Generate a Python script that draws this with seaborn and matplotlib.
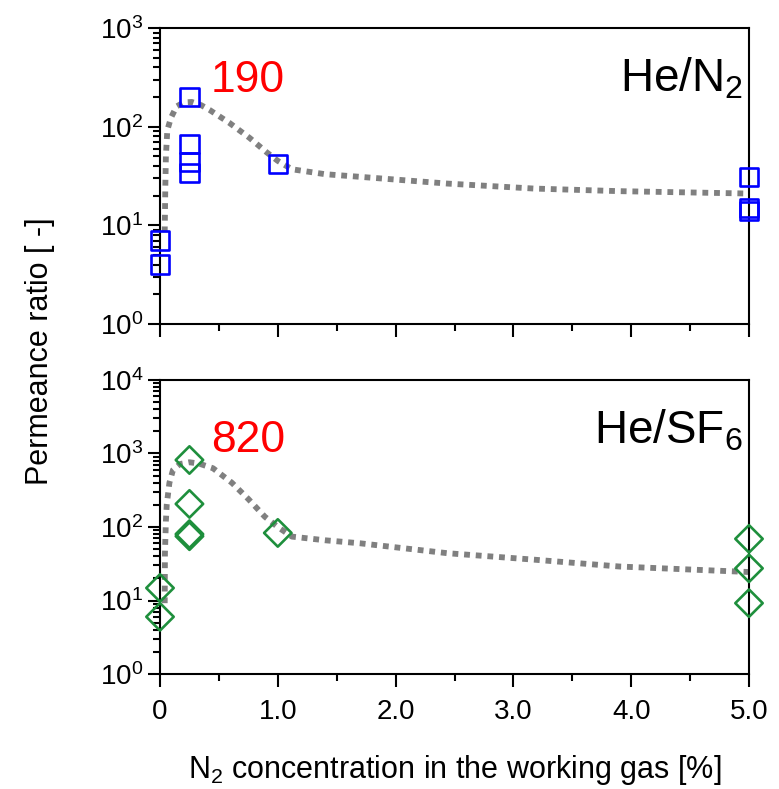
import matplotlib
matplotlib.use("Agg")
import matplotlib.pyplot as plt
import matplotlib.ticker as mticker
import seaborn as sns

# ---- data ----
n2_x = [0.0, 0.0, 0.25, 0.25, 0.25, 0.25, 1.0, 5.0, 5.0, 5.0]
n2_y = [7.0, 4.0, 201, 67, 44, 34, 42, 30.7, 15, 14]

sf6_x = [0.0, 0.0, 0.25, 0.25, 0.25, 0.25, 1.0, 5.0, 5.0, 5.0]
sf6_y = [14.8, 6.0, 816, 206, 80, 75, 83, 69, 27.4, 9.2]

n2_trend_x = [0.04, 0.045, 0.05, 0.062, 0.093, 0.14, 0.2, 0.27, 0.35, 0.42, 0.59,
              0.76, 0.905, 1.0, 1.12, 1.4, 1.7, 2.44, 3.17, 3.9, 5.0]
n2_trend_y = [8.5, 24, 50, 92, 123, 160, 176, 178, 165, 148, 109,
              77, 55, 45, 37, 33, 31, 26.5, 23.6, 22.2, 21]

sf6_trend_x = [0.04, 0.042, 0.05, 0.057, 0.08, 0.11, 0.17, 0.25, 0.33, 0.45, 0.61,
               0.75, 0.89, 1.0, 1.12, 1.4, 1.7, 2.44, 3.17, 3.9, 5.0]
sf6_trend_y = [9.2, 44, 120, 200, 400, 596, 720, 760, 730, 630, 400,
               240, 138, 100, 74, 66, 60, 44, 36, 29, 24.4]

x_ticks = [0, 1, 2, 3, 4, 5]
x_ticklabels = ["0", "1.0", "2.0", "3.0", "4.0", "5.0"]
peak_labels = ["190", "820"]
gas_labels = [r"He/N$_2$", r"He/SF$_6$"]

# ---- style ----
sns.set_theme(style="ticks")
fam = ["Liberation Sans", "DejaVu Sans"]
plt.rcParams["font.family"] = fam
plt.rcParams["mathtext.fontset"] = "custom"
plt.rcParams["mathtext.rm"] = "Liberation Sans"
plt.rcParams["mathtext.it"] = "Liberation Sans:italic"
plt.rcParams["mathtext.bf"] = "Liberation Sans:bold"
plt.rcParams["axes.linewidth"] = 1.5
plt.rcParams["axes.edgecolor"] = "black"
plt.rcParams["text.color"] = "black"
plt.rcParams["axes.labelcolor"] = "black"
plt.rcParams["xtick.color"] = "black"
plt.rcParams["ytick.color"] = "black"

fig = plt.figure(figsize=(7.79, 7.89), dpi=100)
ax1 = fig.add_axes([160/779, 1-324/789, 589/779, 296/789])
ax2 = fig.add_axes([160/779, 1-674/789, 589/779, 294/789])

panels = [
    (ax1, n2_x, n2_y, n2_trend_x, n2_trend_y, "s", "#0000ff", 175, (1, 1000), peak_labels[0], 296, gas_labels[0]),
    (ax2, sf6_x, sf6_y, sf6_trend_x, sf6_trend_y, "D", "#1e8f3c", 195, (1, 10000), peak_labels[1], 1520, gas_labels[1]),
]

for ax, px, py, tx, ty, mk, col, msize, ylim, plab, plab_y, glab in panels:
    sns.lineplot(x=tx, y=ty, ax=ax, color="#808080", lw=4.2, linestyle=(0, (1, 1)),
                 sort=False, estimator=None, zorder=2)
    sns.scatterplot(x=px, y=py, ax=ax, marker=mk, s=msize, color=col, zorder=3, clip_on=False)
    coll = ax.collections[-1]
    coll.set_facecolor("none")
    coll.set_edgecolor(col)
    coll.set_linewidth(1.9)
    coll.set_clip_on(False)

    ax.set_yscale("log")
    ax.set_xlim(0, 5)
    ax.set_ylim(*ylim)
    ax.yaxis.set_major_locator(mticker.LogLocator(base=10, numticks=10))
    ax.yaxis.set_minor_locator(mticker.LogLocator(base=10, subs=range(2, 10), numticks=10))
    ax.yaxis.set_minor_formatter(mticker.NullFormatter())
    ax.set_xticks(x_ticks)
    ax.xaxis.set_minor_locator(mticker.MultipleLocator(0.5))
    ax.tick_params(axis="both", which="major", direction="out", length=9, width=1.5,
                   labelsize=20, colors="black")
    ax.tick_params(axis="x", which="major", pad=9)
    ax.tick_params(axis="y", which="major", pad=3)
    ax.tick_params(axis="both", which="minor", direction="out", length=5, width=1.5)
    ax.tick_params(top=False, right=False, which="both")
    for sp in ax.spines.values():
        sp.set_visible(True)
        sp.set_linewidth(1.5)
        sp.set_color("black")
    ax.grid(False)
    ax.set_xlabel("")
    ax.set_ylabel("")

    ax.text(0.43, plab_y, plab, color="#ff0000", fontsize=32, ha="left", va="center")
    ax.text(0.99, 0.785, glab, transform=ax.transAxes, fontsize=33, ha="right",
            va="baseline", color="black")

ax1.set_xticklabels([])
ax2.set_xticklabels(x_ticklabels)

ax2.set_xlabel(r"N$_2$ concentration in the working gas [%]", fontsize=22, labelpad=20)
fig.text(0.051, 0.555, "Permeance ratio [ -]", rotation=90, fontsize=22, ha="center",
         va="center", color="black")

fig.savefig("out.png", dpi=100)
